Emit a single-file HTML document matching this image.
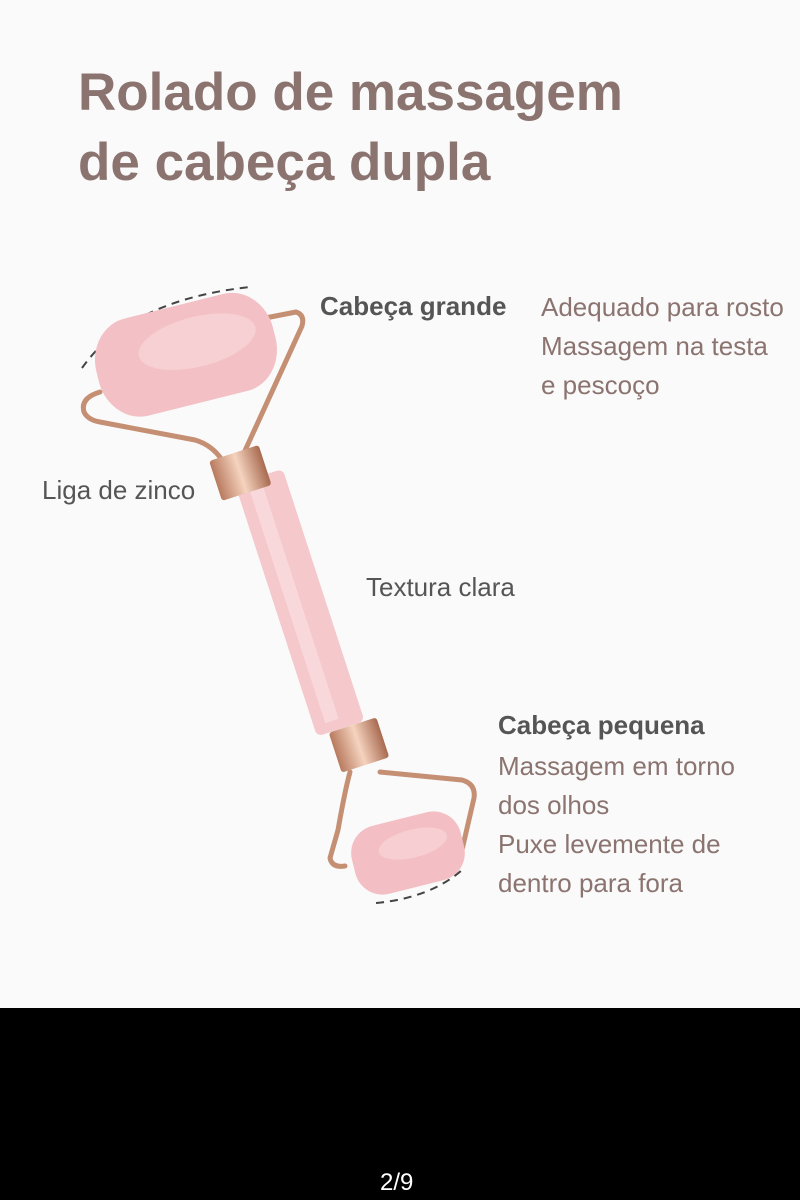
<!DOCTYPE html>
<html><head><meta charset="utf-8"><style>
html,body{margin:0;padding:0}
body{width:800px;height:1200px;background:#fafafa;position:relative;overflow:hidden;font-family:"Liberation Sans",sans-serif}
.t{position:absolute;white-space:nowrap}
.title{left:78px;color:#8b7470;font-size:53px;font-weight:bold;line-height:70px;top:58px}
.lab{color:#555;font-size:26px}
.br{color:#8b7470;font-size:26px;line-height:39px}
.bot{position:absolute;left:0;top:1008px;width:800px;height:192px;background:#000}
</style></head><body>
<div class="t title">Rolado de massagem<br>de cabeça dupla</div>
<svg width="800" height="1008" style="position:absolute;left:0;top:0">
<defs>
<linearGradient id="g" x1="0" x2="1"><stop offset="0" stop-color="#b87a5e"/><stop offset=".5" stop-color="#f5d3bf"/><stop offset="1" stop-color="#a86a50"/></linearGradient>
</defs>
<path d="M82 368 Q130 300 250 287" fill="none" stroke="#444" stroke-width="2" stroke-dasharray="8 6"/>
<path d="M376 903 Q430 898 462 870" fill="none" stroke="#444" stroke-width="2" stroke-dasharray="8 6"/>
<g fill="none" stroke="#c58f74" stroke-width="5" stroke-linecap="round" stroke-linejoin="round">
<path d="M255 320 L296 312 Q305 315 302 326 L243 455"/>
<path d="M100 392 Q80 398 84 412 Q88 420 100 422 L195 440 Q212 445 222 460"/>
<path d="M350 772 Q345 790 338 830 L330 858 Q332 868 345 866"/>
<path d="M380 772 L462 780 Q476 784 474 798 L462 850"/>
</g>
<g transform="rotate(-14 185 355)"><rect x="95" y="305" width="182" height="100" rx="40" ry="45" fill="#f3c1c5"/><ellipse cx="200" cy="345" rx="60" ry="25" fill="#f8d6d8" opacity=".7"/></g>
<g transform="rotate(-18 300 600)"><rect x="274" y="470" width="50" height="265" rx="6" fill="#f5c8cc"/><rect x="286" y="480" width="14" height="245" fill="#fadcde" opacity=".8"/></g>
<g transform="rotate(-18 240 472)"><rect x="214" y="452" width="52" height="42" rx="3" fill="url(#g)"/></g>
<g transform="rotate(-18 359 745)"><rect x="334" y="724" width="50" height="42" rx="3" fill="url(#g)"/></g>
<g transform="rotate(-14 408 853)"><rect x="352" y="818" width="112" height="70" rx="28" fill="#f3bfc4"/><ellipse cx="415" cy="845" rx="35" ry="14" fill="#f8d6d8" opacity=".7"/></g>
</svg>
<div class="t lab" style="left:320px;top:291px;font-weight:bold">Cabeça grande</div>
<div class="t br" style="left:541px;top:288px">Adequado para rosto<br>Massagem na testa<br>e pescoço</div>
<div class="t lab" style="left:42px;top:475px">Liga de zinco</div>
<div class="t lab" style="left:366px;top:572px">Textura clara</div>
<div class="t lab" style="left:498px;top:710px;font-weight:bold">Cabeça pequena</div>
<div class="t br" style="left:498px;top:747px">Massagem em torno<br>dos olhos<br>Puxe levemente de<br>dentro para fora</div>
<div class="bot"></div>
<div class="t" style="left:380px;top:1169px;color:#fff;font-size:24px">2/9</div>
</body></html>
